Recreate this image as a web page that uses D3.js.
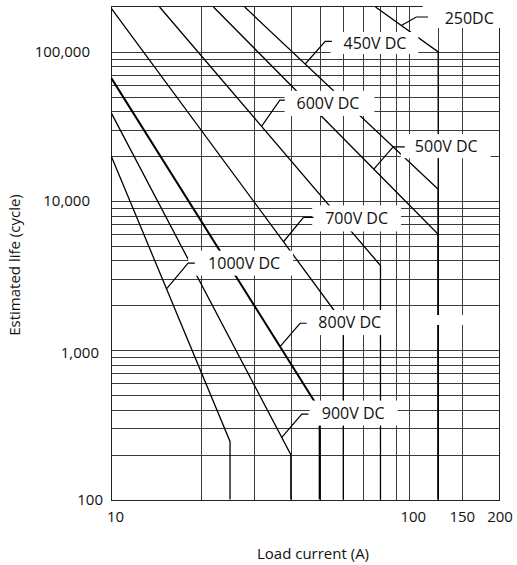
<!DOCTYPE html>
<html><head><meta charset="utf-8">
<script src="https://cdn.jsdelivr.net/npm/d3@7"></script>
<style>
html,body{margin:0;padding:0;background:#fff;}
svg{display:block;font-family:"Open Sans",sans-serif;}
</style></head><body>
<svg id="chart" width="517" height="565"></svg>
<script>
// ---- data ----
const seriesNames = ["250DC","450V DC","500V DC","600V DC","700V DC","800V DC","900V DC","1000V DC"];
// [load current (A), estimated life (cycles)]
const life250DC   = [[77,200000],[125,100000],[125,100]];
const life450VDC  = [[28,200000],[125,12000],[125,100]];
const life500VDC  = [[22,200000],[125,6000],[125,100]];
const life600VDC  = [[14.5,200000],[80,3700],[80,100]];
const life700VDC  = [[10,195000],[60,1530],[60,100]];
const life800VDC  = [[10,66500],[50,400],[50,100]];
const life900VDC  = [[10,38700],[40,200],[40,100]];
const life1000VDC = [[10,19850],[25,245],[25,100]];
// current at which each label's pointer touches its line
const labelCurrent = [94,44.7,76,31.9,37.8,36.8,37.3,15.3];

const xTickValues = [10,100,150,200];
const xTickLabels = ["10","100","150","200"];
const yTickValues = [100,1000,10000,100000];
const yTickLabels = ["100","1,000","10,000","100,000"];
const xGridValues = [20,30,40,50,60,70,80,90,100,125,150];
const yGridValues = [200,300,400,500,600,700,800,900,1000,
                     2000,3000,4000,5000,6000,7000,8000,9000,10000,
                     20000,30000,40000,50000,60000,70000,80000,90000,100000];
const xTitle = "Load current (A)";
const yTitle = "Estimated life (cycle)";

// ---- drawing ----
const seriesData = [life250DC,life450VDC,life500VDC,life600VDC,life700VDC,life800VDC,life900VDC,life1000VDC];
const svg = d3.select("#chart");
const L = 111.5, R = 499, T = 7, B = 499.5;
const x = d3.scaleLog().domain([10,200]).range([L,R]);
const y = d3.scaleLog().domain([100,200000]).range([B,T]);
const crisp = v => Math.round(v) + 0.5;

const grid = svg.append("g").attr("shape-rendering","crispEdges").attr("stroke","#3a3a3a").attr("stroke-width",1);
grid.selectAll("line.h").data(yGridValues).join("line").attr("class","h")
  .attr("x1",L).attr("x2",R).attr("y1",d=>crisp(y(d))).attr("y2",d=>crisp(y(d)));
grid.selectAll("line.v").data(xGridValues).join("line").attr("class","v")
  .attr("y1",T).attr("y2",B).attr("x1",d=>crisp(x(d))).attr("x2",d=>crisp(x(d)));
svg.append("rect").attr("x",crisp(L)-1).attr("y",crisp(T)-1).attr("width",crisp(R)-crisp(L)+1).attr("height",crisp(B)-crisp(T)+1)
  .attr("fill","none").attr("stroke","#222").attr("stroke-width",1).attr("shape-rendering","crispEdges");

const lineGen = d3.line().x(d=>x(d[0])).y(d=>y(d[1]));
svg.append("g").selectAll("path").data(seriesData).join("path")
  .attr("d",lineGen).attr("fill","none").attr("stroke","#000")
  .attr("stroke-width",(d,i)=> seriesNames[i]==="800V DC" ? 2 : 1.3)
  .attr("stroke-linejoin","miter");

// blank mask seen in the reference
svg.append("rect").attr("x",420).attr("y",315).attr("width",65).attr("height",10).attr("fill","#fff");

// labels
const FS = 16;
const layout = {
  "250DC":    {ex:15,   ey:-8.5,  gap:28.3, tail:11.6, dy:1,    padL:22, padR:22, top:0,  h:28},
  "450V DC":  {ex:20,   ey:-22.7, gap:18.3, tail:6.7,  dy:1.7,  padL:13, padR:12, h:22},
  "500V DC":  {ex:19.3, ey:-22.3, gap:21.7, tail:11.7, dy:-0.7, padL:14, padR:13, h:24},
  "600V DC":  {ex:18.3, ey:-26.3, gap:16.7, tail:5,    dy:3.3,  padL:12, padR:15, h:25},
  "700V DC":  {ex:20,   ey:-24.3, gap:21.7, tail:10,   dy:1,    padL:13, padR:13, h:26},
  "800V DC":  {ex:20,   ey:-23.3, gap:18.3, tail:6.7,  dy:-0.7, padL:13, padR:13, h:25},
  "900V DC":  {ex:20,   ey:-23.3, gap:20,   tail:6.6,  dy:-1,   padL:12, padR:13, h:25},
  "1000V DC": {ex:21.6, ey:-25.7, gap:20,   tail:6.7,  dy:0,    padL:20, padR:13, h:25}
};
function lifeAt(pts, c){
  const a = pts[0], b = pts[1];
  const t = (Math.log(c)-Math.log(a[0]))/(Math.log(b[0])-Math.log(a[0]));
  return Math.exp(Math.log(a[1]) + t*(Math.log(b[1])-Math.log(a[1])));
}
const lab = svg.append("g");
seriesNames.forEach((name,i)=>{
  const c = labelCurrent[i];
  const tx = x(c), ty = y(lifeAt(seriesData[i], c));
  const o = layout[name];
  const ex = tx + o.ex, ey = ty + o.ey;
  const textLeft = ex + o.gap, cy = ey + o.dy;
  const g = lab.append("g");
  const box = g.append("rect").attr("fill","#fff");
  const txt = g.append("text").attr("x",textLeft).attr("y",cy + 0.357*FS)
    .attr("font-size",FS).attr("fill","#111").text(name);
  const w = txt.node().getComputedTextLength();
  const top = (o.top!==undefined) ? o.top : cy - o.h/2;
  box.attr("x",textLeft-o.padL).attr("y",top).attr("width",w+o.padL+o.padR).attr("height",o.h);
  g.append("polyline").attr("points",[[tx,ty],[ex,ey],[ex+o.tail,ey]].map(p=>p.join(",")).join(" "))
    .attr("fill","none").attr("stroke","#000").attr("stroke-width",1.2);
  txt.raise();
});

// axis tick labels
const yLabelRight = {100:103, 1000:99, 10000:90, 100000:90};
const yLabelDy = {100:0.5, 1000:2, 10000:0, 100000:0};
svg.append("g").selectAll("text").data(yTickValues).join("text")
  .attr("x",d=>yLabelRight[d]).attr("y",d=>y(d)+yLabelDy[d]+0.357*15)
  .attr("text-anchor","end").attr("font-size",15).attr("fill","#111")
  .text((d,i)=>yTickLabels[i]);
const xLabelDx = {10:4, 100:4, 150:0.5, 200:1};
svg.append("g").selectAll("text").data(xTickValues).join("text")
  .attr("x",d=>x(d)+xLabelDx[d]).attr("y",517+0.357*15)
  .attr("text-anchor","middle").attr("font-size",15).attr("fill","#111")
  .text((d,i)=>xTickLabels[i]);

svg.append("text").attr("x",313).attr("y",554+0.357*15).attr("text-anchor","middle")
  .attr("font-size",15).attr("fill","#111").text(xTitle);
svg.append("text").attr("transform","translate(15,265) rotate(-90)").attr("y",0.357*15)
  .attr("text-anchor","middle").attr("font-size",15).attr("fill","#111").text(yTitle);
</script>
</body></html>
